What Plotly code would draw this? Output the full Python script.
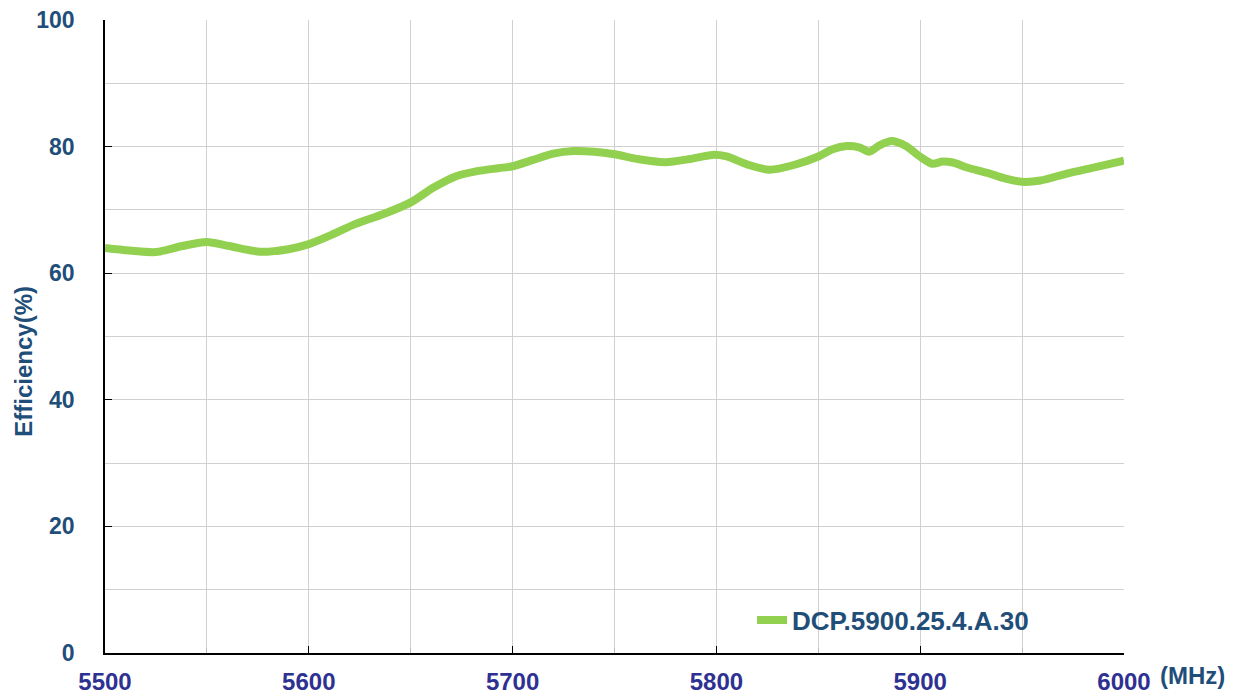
import plotly.graph_objects as go

freq_mhz = [5500, 5512, 5525, 5538, 5550, 5561, 5576, 5590, 5600, 5610, 5623, 5637, 5650,
            5661, 5672, 5682, 5693, 5700, 5710, 5720, 5730, 5740, 5750, 5762, 5775, 5787,
            5798, 5805, 5815, 5826, 5838, 5850, 5857, 5864, 5870, 5875, 5880, 5886, 5893,
            5900, 5906, 5911, 5916, 5923, 5933, 5942, 5950, 5959, 5972, 5985, 6000]
efficiency = [64.0, 63.6, 63.35, 64.3, 64.95, 64.3, 63.4, 63.8, 64.6, 65.9, 67.8, 69.4, 71.2,
              73.5, 75.3, 76.1, 76.6, 76.9, 77.9, 78.9, 79.3, 79.2, 78.8, 78.0, 77.55, 78.05,
              78.7, 78.45, 77.2, 76.35, 77.1, 78.45, 79.6, 80.1, 79.9, 79.2, 80.2, 80.9, 80.1,
              78.4, 77.3, 77.65, 77.5, 76.7, 75.85, 74.95, 74.45, 74.65, 75.75, 76.7, 77.8]
series_name = "DCP.5900.25.4.A.30"
x_ticks = [5500, 5600, 5700, 5800, 5900, 6000]
y_ticks = [0, 20, 40, 60, 80, 100]

FONT = "Liberation Sans, Arial, sans-serif"
YCOL = "#1F4E79"
XCOL = "#2E3192"

fig = go.Figure()
fig.add_trace(go.Scatter(
    x=freq_mhz, y=efficiency, mode="lines", name=series_name,
    line=dict(color="#92D050", width=8, shape="spline", smoothing=0.8),
))

# page body has an 8px margin, so the figure is sized/offset to compensate
fig.update_layout(
    width=1232, height=688,
    margin=dict(l=97, r=116, t=12, b=43),
    paper_bgcolor="white", plot_bgcolor="white",
    font=dict(family=FONT),
    showlegend=True,
    legend=dict(x=0.635, y=0.052, xanchor="left", yanchor="middle",
                bgcolor="rgba(0,0,0,0)",
                font=dict(family=FONT, size=26, color=YCOL, weight="bold")),
    xaxis=dict(
        range=[5500, 6000.01], tickvals=x_ticks, ticktext=[str(v) for v in x_ticks],
        showgrid=True, gridcolor="#D0D0D0", gridwidth=1,
        showline=True, linecolor="black", linewidth=1.5,
        ticks="inside", ticklen=7, tickcolor="black",
        minor=dict(dtick=50, showgrid=True, gridcolor="#D0D0D0", ticks="inside",
                   ticklen=5, tickcolor="#BBBBBB"),
        tickfont=dict(family=FONT, size=24, color=XCOL, weight="bold"),
        ticklabelstandoff=6, zeroline=False, automargin=False,
        ticklabeloverflow="allow",
    ),
    yaxis=dict(
        range=[0, 100.01], tickvals=y_ticks,
        showgrid=True, gridcolor="#D0D0D0", gridwidth=1,
        showline=True, linecolor="black", linewidth=1.5,
        ticks="inside", ticklen=7, tickcolor="black",
        minor=dict(dtick=10, showgrid=True, gridcolor="#D0D0D0", ticks=""),
        tickfont=dict(family=FONT, size=23, color=YCOL, weight="bold"),
        ticklabelstandoff=24, zeroline=False, automargin=False,
        ticklabeloverflow="allow",
    ),
    annotations=[
        dict(text="Efficiency(%)", xref="paper", yref="paper", x=-0.080, y=0.461,
             xanchor="center", yanchor="middle",
             textangle=-90, showarrow=False,
             font=dict(family=FONT, size=24, color=YCOL, weight="bold")),
        dict(text="(MHz)", xref="paper", yref="paper", x=1.0677, y=-0.036,
             xanchor="center", yanchor="middle", showarrow=False,
             font=dict(family=FONT, size=24, color=YCOL, weight="bold")),
    ],
)

fig.write_html("out.html")
